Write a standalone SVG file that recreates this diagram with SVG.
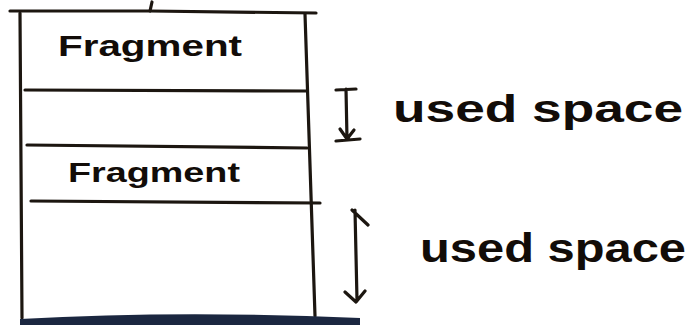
<svg xmlns="http://www.w3.org/2000/svg" width="687" height="325" viewBox="0 0 687 325">
<style>
.ln{stroke:#1c1610;stroke-width:3.2;fill:none;stroke-linecap:round;stroke-linejoin:round}
.lb{font-family:"Liberation Sans",sans-serif;fill:#120c08;font-weight:bold}
</style>
<rect width="687" height="325" fill="#ffffff"/>
<g id="frame">
<path class="ln" d="M152,2 L150,11"/>
<path class="ln" d="M10,11 L150,11 L316,13"/>
<path class="ln" d="M20,13 L22,318"/>
<path class="ln" d="M305,14 L315,316"/>
<path d="M20,325 L20,319 Q180,310 360,318 L360,325 Z" fill="#1b2740"/>
</g>
<g id="fragment1">
<path class="ln" d="M25,90 L306,91"/>
<text class="lb" x="58" y="56" font-size="30" textLength="184" lengthAdjust="spacingAndGlyphs">Fragment</text>
</g>
<g id="gap1">
<path class="ln" d="M27,145 L307,148"/>
</g>
<g id="fragment2">
<text class="lb" x="68" y="182" font-size="27" textLength="172" lengthAdjust="spacingAndGlyphs">Fragment</text>
<path class="ln" d="M31,201 L320,203"/>
</g>
<g id="connectors">
<path class="ln" d="M336,90 L356,89 M346,89 L347,139 M336,141 L360,139 M340,129 L347,139 L354,130"/>
<path class="ln" d="M355,210 L357,300 M352,210 L368,225 M345,292 L356,302 L365,291"/>
</g>
<g id="label1">
<text class="lb" x="393" y="122" font-size="38" textLength="290" lengthAdjust="spacingAndGlyphs">used space</text>
</g>
<g id="label2">
<text class="lb" x="420" y="262" font-size="40" textLength="266" lengthAdjust="spacingAndGlyphs">used space</text>
</g>
</svg>
